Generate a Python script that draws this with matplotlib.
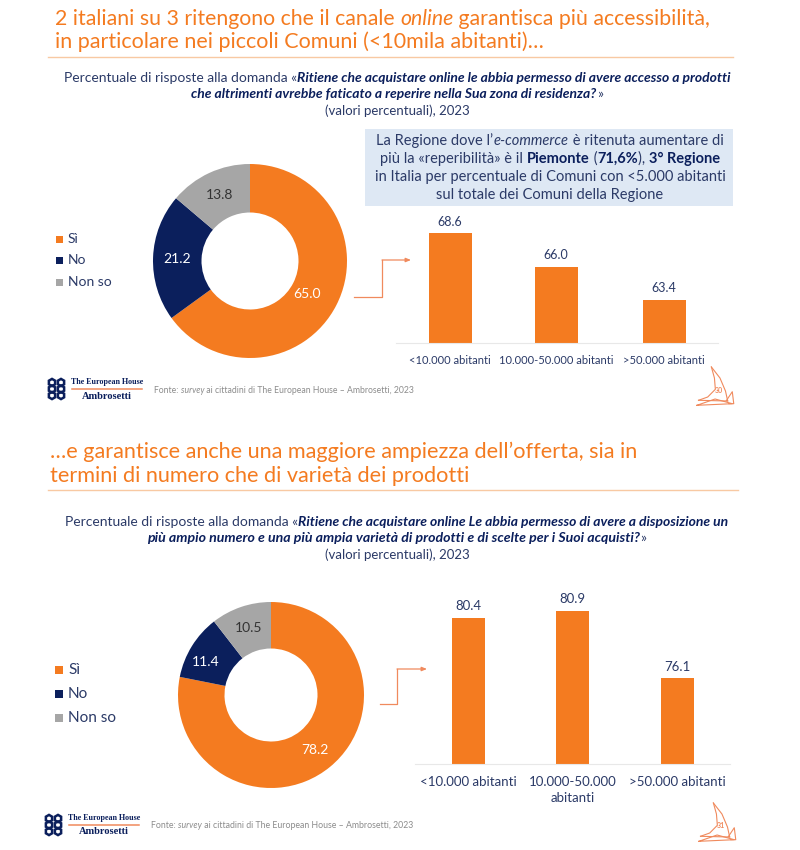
"""Two survey slides: donut plus bar chart on each."""

import matplotlib
matplotlib.use("Agg")
from matplotlib import pyplot as plt
from matplotlib.patches import Rectangle, RegularPolygon

plt.rcParams["font.family"] = ["Lato", "DejaVu Sans"]

ORANGE = "#F47B20"
NAVY = "#0B1F5C"
GREY = "#A6A6A6"
TEXT = "#2B3A67"
SOFT = "#F08A5D"
NOTE = "#8C8C8C"
W, H = 800, 850

donut_labels = ["Sì", "No", "Non so"]
donut_top = [65.0, 21.2, 13.8]
donut_bottom = [78.2, 11.4, 10.5]
bar_cats_top = ["<10.000 abitanti", "10.000-50.000 abitanti", ">50.000 abitanti"]
bar_cats_bottom = ["<10.000 abitanti", "10.000-50.000\nabitanti", ">50.000 abitanti"]
bar_top = [68.6, 66.0, 63.4]
bar_bottom = [80.4, 80.9, 76.1]

fig = plt.figure(figsize=(W / 100, H / 100), dpi=100, facecolor="white")
page = fig.add_axes([0, 0, 1, 1], zorder=10)
page.set_xlim(0, W)
page.set_ylim(H, 0)
page.axis("off")


def axes_px(x0, y0, x1, y1):
    return fig.add_axes([x0 / W, 1 - y1 / H, (x1 - x0) / W, (y1 - y0) / H])


def runs(x, y, parts, size, color=TEXT, center=False):
    """Draw (text, style, weight) runs on one line, measuring each to place the next."""
    renderer = fig.canvas.get_renderer()
    items = []
    total = 0
    for txt, style, weight, col in parts:
        t = page.text(0, y, txt, fontsize=size, style=style, weight=weight, color=col or color, va="center")
        wid = t.get_window_extent(renderer).width
        items.append((t, wid))
        total += wid
    start = x - total / 2 if center else x
    for t, wid in items:
        t.set_x(start)
        start += wid


def donut(cx, cy, r, values, label_pos):
    ax = axes_px(cx - r, cy - r, cx + r, cy + r)
    ax.pie(values, colors=[ORANGE, NAVY, GREY], startangle=90, counterclock=False, radius=1,
           wedgeprops={"width": 0.5, "linewidth": 0})
    ax.set_xlim(-1, 1)
    ax.set_ylim(-1, 1)
    for val, (lx, ly), col in zip(values, label_pos, ["white", "white", "#333333"]):
        page.text(lx, ly, f"{val:.1f}", color=col, fontsize=10, ha="center", va="center", zorder=5)


def bars(x0, x1, y0, y1, centers, width, cats, values, ymin, ymax, size, val_size, pad):
    ax = axes_px(x0, y0, x1, y1)
    ax.set_xlim(x0, x1)
    ax.set_ylim(ymin, ymax)
    ax.bar(centers, values, width=width, color=ORANGE)
    for c, v in zip(centers, values):
        ax.annotate(f"{v:.1f}", (c, v), xytext=(0, 4), textcoords="offset points",
                    ha="center", va="bottom", fontsize=val_size, color=TEXT)
    ax.set_yticks([])
    ax.set_xticks(centers, cats, fontsize=size, color=TEXT, linespacing=1.4)
    ax.tick_params(axis="x", length=0, pad=pad)
    for side in ["top", "left", "right"]:
        ax.spines[side].set_visible(False)
    ax.spines["bottom"].set_color("#E8E8E8")
    ax.patch.set_alpha(0)


def legend(x, ys, size, box):
    for y, name, col in zip(ys, donut_labels, [ORANGE, NAVY, GREY]):
        page.add_patch(Rectangle((x, y - box / 2), box, box, color=col, lw=0))
        page.text(x + box + 5, y, name, fontsize=size, color=TEXT, va="center")


def arrow(points):
    xs, ys = zip(*points)
    page.plot(xs[:-1], ys[:-1], color=SOFT, lw=0.9)
    page.annotate("", xy=points[-1], xytext=points[-2],
                  arrowprops={"arrowstyle": "-|>,head_width=0.12,head_length=0.3", "color": SOFT, "lw": 0.9,
                              "shrinkA": 0, "shrinkB": 0})


def logo(x, y):
    for dx in [2, 11]:
        for dy in [-8.5, -2, 4.5]:
            page.add_patch(RegularPolygon((x + dx, y + dy), 6, radius=3.6, facecolor="none", edgecolor=NAVY, lw=1.8))
    page.text(x + 57, y - 9, "The European House", family="Liberation Serif", weight="bold",
              fontsize=5.8, color=NAVY, ha="center", va="center")
    page.plot([x + 22, x + 92], [y - 2, y - 2], color=SOFT, lw=1.1)
    page.text(x + 57, y + 5, "Ambrosetti", family="Liberation Serif", weight="bold",
              fontsize=7.5, color=NAVY, ha="center", va="center")


def sail(x, y, number):
    paths = [
        [(-5, -24), (4.3, -13), (10.3, 0), (12.7, 10)],
        [(-5, -24), (-1.7, -13), (-0.7, -1.7), (-9, 6), (-19, 9.3)],
        [(-19, 9.3), (12.7, 10)],
        [(-20.7, 14.3), (-1, 8), (17.7, 12.7), (-20.7, 14.3)],
        [(11, 10), (17.7, 0.7), (19.3, 12.7), (14, 12.7)],
    ]
    for path in paths:
        px = [x + 0.92 * p[0] for p in path]
        py = [y + p[1] for p in path]
        page.plot(px, py, color=SOFT, lw=0.8)
    page.text(x + 3, y - 1, number, color=SOFT, fontsize=5, weight="bold", ha="center", va="center")


# top slide
runs(55, 19, [("2 italiani su 3 ritengono che il canale ", "normal", "normal", ORANGE),
              ("online", "italic", "normal", ORANGE),
              (" garantisca più accessibilità,", "normal", "normal", ORANGE)], 15.3)
runs(55, 42, [("in particolare nei piccoli Comuni (<10mila abitanti)…", "normal", "normal", ORANGE)], 15.5)
page.plot([48, 733], [57, 57], color="#F8C9A3", lw=1)
runs(397, 78, [("Percentuale di risposte alla domanda «", "normal", "normal", TEXT),
               ("Ritiene che acquistare online le abbia permesso di avere accesso a prodotti", "italic", "bold", NAVY)],
     10, center=True)
runs(397, 94, [("che altrimenti avrebbe faticato a reperire nella Sua zona di residenza?", "italic", "bold", NAVY),
               ("»", "normal", "normal", TEXT)], 10, center=True)
page.text(397, 111, "(valori percentuali), 2023", fontsize=9.5, color=TEXT, ha="center", va="center")

page.add_patch(Rectangle((365, 129), 368, 77, color="#DEE8F4", lw=0))
runs(550, 141, [("La Regione dove l’", "normal", "normal", TEXT), ("e-commerce", "italic", "normal", TEXT),
                (" è ritenuta aumentare di", "normal", "normal", TEXT)], 10.5, center=True)
runs(550, 159, [("più la «reperibilità» è il ", "normal", "normal", TEXT), ("Piemonte", "normal", "bold", NAVY),
                (" (", "normal", "normal", TEXT), ("71,6%", "normal", "bold", NAVY), ("), ", "normal", "normal", TEXT),
                ("3° Regione", "normal", "bold", NAVY)], 10.5, center=True)
runs(550, 177, [("in Italia per percentuale di Comuni con <5.000 abitanti", "normal", "normal", TEXT)], 10.5, center=True)
runs(550, 195, [("sul totale dei Comuni della Regione", "normal", "normal", TEXT)], 10.5, center=True)

donut(250, 261, 97, donut_top, [(307, 294), (177, 259), (220, 195)])
legend(56, [239, 260, 282], 10, 7)
bars(396, 718, 215, 343.5, [450, 556, 664], 43, bar_cats_top, bar_top, 60, 60 + 128.5 / 12.8, 8, 9, 8)
arrow([(354, 297), (382, 297), (382, 260), (411, 260)])
logo(50, 391)
runs(154, 390, [("Fonte: ", "normal", "normal", NOTE), ("survey", "italic", "normal", NOTE),
                (" ai cittadini di The European House – Ambrosetti, 2023", "normal", "normal", NOTE)], 6.2)
sail(716, 391, "30")

# bottom slide
page.text(50, 452, "…e garantisce anche una maggiore ampiezza dell’offerta, sia in", fontsize=15.6,
          color=ORANGE, va="center")
page.text(50, 476, "termini di numero che di varietà dei prodotti", fontsize=15.6, color=ORANGE, va="center")
page.plot([48, 738], [490, 490], color="#F8C9A3", lw=1)
runs(397, 522, [("Percentuale di risposte alla domanda «", "normal", "normal", TEXT),
                ("Ritiene che acquistare online Le abbia permesso di avere a disposizione un", "italic", "bold", NAVY)],
     10, center=True)
runs(397, 538, [("più ampio numero e una più ampia varietà di prodotti e di scelte per i Suoi acquisti?", "italic", "bold", NAVY),
                ("»", "normal", "normal", TEXT)], 10.2, center=True)
page.text(397, 555, "(valori percentuali), 2023", fontsize=9.5, color=TEXT, ha="center", va="center")

donut(271, 695, 93, donut_bottom, [(315, 750), (206, 662), (249, 628)])
legend(55, [670, 694, 718], 11, 8)
bars(415, 730, 600, 763.5, [468, 572.5, 677], 33, bar_cats_bottom, bar_bottom, 70, 70 + 163.5 / 14, 9.5, 9.5, 9)
arrow([(380, 704), (397, 704), (397, 669), (427, 669)])
logo(47, 827)
runs(151, 826, [("Fonte: ", "normal", "normal", NOTE), ("survey", "italic", "normal", NOTE),
                (" ai cittadini di The European House – Ambrosetti, 2023", "normal", "normal", NOTE)], 6.3)
sail(718, 827, "31")

fig.savefig("out.png", dpi=100)
